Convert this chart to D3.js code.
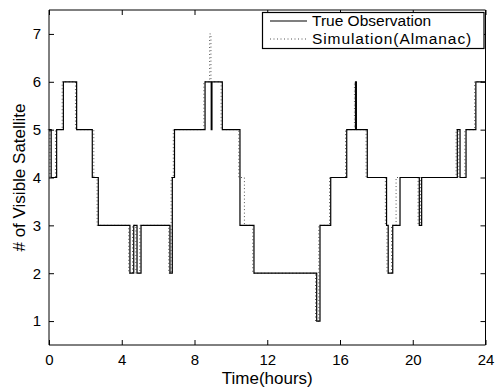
<!DOCTYPE html>
<html><head><meta charset="utf-8">
<script src="https://cdn.jsdelivr.net/npm/d3@7"></script>
<style>body{margin:0;background:#fff}svg{display:block}text{font-family:"Liberation Sans",Arial,sans-serif;fill:#000}</style>
</head><body><svg id="c" width="500" height="387"></svg>
<script>
// step-change times (hours) and the value that begins at each time
const trueTimes = [0,0.12,0.42,0.79,1.52,2.38,2.71,4.45,4.66,4.84,5.06,6.65,6.78,6.9,8.58,8.92,8.96,9.53,10.5,11.27,14.72,14.9,15.49,16.37,16.86,16.9,17.5,18.56,18.65,18.9,19.3,20.36,20.49,22.45,22.6,22.93,23.47,24];
const trueVals  = [5,4,5,6,5,4,3,2,3,2,3,2,4,5,6,5,6,5,3,2,1,3,4,5,6,5,4,3,2,3,4,3,4,5,4,5,6,6];
const simTimes = [0,0.12,0.42,0.79,1.52,2.53,2.71,4.45,4.66,4.84,5.06,6.65,6.78,6.9,8.58,8.9,8.97,9.53,10.5,10.81,11.27,14.72,14.9,15.49,16.37,16.86,16.9,17.5,18.56,18.65,18.9,19.15,20.36,20.49,22.45,22.6,22.93,23.47,24];
const simVals  = [5,4,5,6,5,4,3,2,3,2,3,2,4,5,6,7,6,5,4,3,2,1,3,4,5,6,5,4,3,2,3,4,3,4,5,4,5,6,6];
const xTicks = [0,4,8,12,16,20,24];
const yTicks = [1,2,3,4,5,6,7];
const legendLabels = ["True Observation","Simulation(Almanac)"];

const svg = d3.select("#c");
const L=49, R=485.5, T=10, B=345;
const x = d3.scaleLinear().domain([0,24]).range([L,R]);
const y = d3.scaleLinear().domain([0.5,7.5]).range([B,T]);

const line = d3.line().x(d=>x(d[0])).y(d=>y(d[1])).curve(d3.curveStepAfter);
const simData = simTimes.map((t,i)=>[t,simVals[i]]);
const trueData = trueTimes.map((t,i)=>[t,trueVals[i]]);

svg.append("path").datum(simData).attr("d",line).attr("fill","none")
  .attr("stroke","#555").attr("stroke-width",1).attr("stroke-dasharray","1,2.5")
  .attr("transform","translate(-1.2,0)");
svg.append("path").datum(trueData).attr("d",line).attr("fill","none")
  .attr("stroke","#000").attr("stroke-width",1.2);

// axes box
const gb = svg.append("g").attr("transform",`translate(0,${B})`)
  .call(d3.axisBottom(x).tickValues(xTicks).tickSize(-5).tickPadding(9).tickFormat(d3.format("d")));
const gt = svg.append("g").attr("transform",`translate(0,${T})`)
  .call(d3.axisTop(x).tickValues(xTicks).tickSize(-5).tickFormat(""));
const gl = svg.append("g").attr("transform",`translate(${L},0)`)
  .call(d3.axisLeft(y).tickValues(yTicks).tickSize(-5).tickPadding(8).tickFormat(d3.format("d")));
const gr = svg.append("g").attr("transform",`translate(${R},0)`)
  .call(d3.axisRight(y).tickValues(yTicks).tickSize(-5).tickFormat(""));
[gb,gt,gl,gr].forEach(g=>{
  g.select(".domain").attr("stroke","#000").attr("stroke-width",1);
  g.selectAll(".tick line").attr("stroke","#000");
  g.selectAll("text").style("font-size","15px").style("font-family","Liberation Sans, Arial, sans-serif");
});
gb.selectAll(".domain").attr("d",`M${L},0H${R}`);
gt.selectAll(".domain").attr("d",`M${L},0H${R}`);
gl.selectAll(".domain").attr("d",`M0,${T}V${B}`);
gr.selectAll(".domain").attr("d",`M0,${T}V${B}`);

svg.append("text").attr("x",(L+R)/2).attr("y",384).attr("text-anchor","middle")
  .style("font-size","17px").text("Time(hours)");
svg.append("text").attr("transform",`translate(25,${(T+B)/2}) rotate(-90)`).attr("text-anchor","middle")
  .style("font-size","17px").text("# of Visible Satellite");

// legend
const lg = svg.append("g");
lg.append("rect").attr("x",262.5).attr("y",12.5).attr("width",221.5).attr("height",36)
  .attr("fill","#fff").attr("stroke","#000").attr("stroke-width",1.2);
const rows=[{y:21,dash:null,col:"#000",ls:0},{y:39,dash:"1,2.5",col:"#555",ls:0.9}];
rows.forEach((r,i)=>{
  lg.append("line").attr("x1",270).attr("x2",307).attr("y1",r.y).attr("y2",r.y)
    .attr("stroke",r.col).attr("stroke-width",i?1:1.2).attr("stroke-dasharray",r.dash);
  lg.append("text").attr("x",312).attr("y",r.y+5).style("font-size","15.5px")
    .style("letter-spacing",r.ls+"px").text(legendLabels[i]);
});
</script></body></html>
